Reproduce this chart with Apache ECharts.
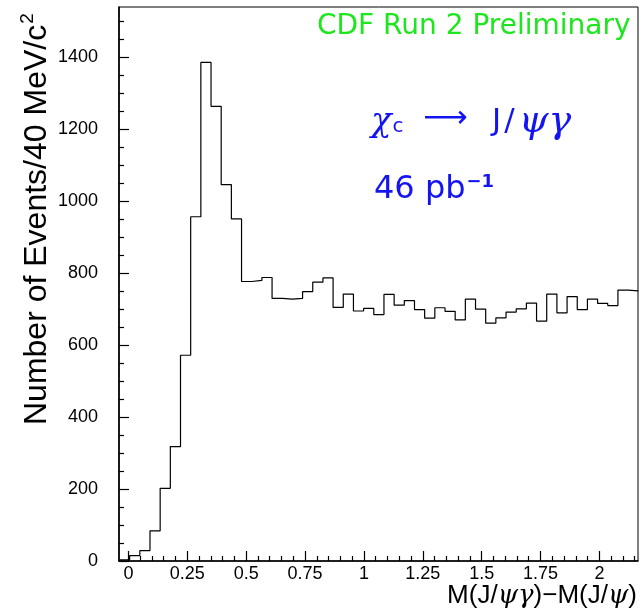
<!DOCTYPE html>
<html>
<head>
<meta charset="utf-8">
<script src="https://cdn.jsdelivr.net/npm/echarts@6/dist/echarts.min.js"></script>
<style>
html,body{margin:0;padding:0;background:#fff;}
#c{width:641px;height:616px;}
</style>
</head>
<body>
<div id="c"></div>
<script>
// Histogram definition (lower edge of first bin and bin width, in GeV/c^2)
const binStart = -0.038;
const binWidth = 0.0432;
// Events per bin
const counts = [
  3, 15, 29, 84, 202, 318, 572, 957, 1386, 1264,
  1046, 951, 777, 780, 788, 730, 728, 730, 749, 775,
  787, 705, 742, 695, 702, 685, 741, 711, 724, 699,
  675, 704, 694, 670, 728, 700, 661, 676, 692, 701,
  717, 667, 742, 690, 735, 699, 728, 716, 710, 753,
  751
];
// Axis ticks
const xMajorTicks = [0, 0.25, 0.5, 0.75, 1, 1.25, 1.5, 1.75, 2];
const xMinorTicks = [0.05, 0.1, 0.15, 0.2, 0.3, 0.35, 0.4, 0.45, 0.55, 0.6, 0.65, 0.7,
  0.8, 0.85, 0.9, 0.95, 1.05, 1.1, 1.15, 1.2, 1.3, 1.35, 1.4, 1.45, 1.55, 1.6, 1.65, 1.7,
  1.8, 1.85, 1.9, 1.95, 2.05, 2.1, 2.15];
const yMajorTicks = [0, 200, 400, 600, 800, 1000, 1200, 1400];
const yMinorTicks = [50, 100, 150, 250, 300, 350, 450, 500, 550, 650, 700, 750, 850, 900, 950,
  1050, 1100, 1150, 1250, 1300, 1350, 1450, 1500];
const xRange = [-0.04, 2.164];
const yRange = [0, 1540];

const stepData = counts.map((c, i) => [binStart + i * binWidth, c]);
stepData.push([binStart + counts.length * binWidth, counts[counts.length - 1]]);

const chart = echarts.init(document.getElementById('c'), null, {renderer: 'canvas'});
const numFont = 'Liberation Sans';
const tickLine = {color: '#000', width: 1.2};
const blue = '#1414f0';

chart.setOption({
  animation: false,
  backgroundColor: '#fff',
  grid: {left: 119, top: 7, width: 519, height: 554, show: true, borderColor: '#000', borderWidth: 1, backgroundColor: 'transparent'},
  xAxis: [
    {type: 'value', min: xRange[0], max: xRange[1], position: 'bottom',
      axisLine: {show: true, onZero: false, lineStyle: {color: '#000', width: 1.6}},
      axisTick: {show: true, inside: true, length: 10, customValues: xMajorTicks, lineStyle: tickLine},
      axisLabel: {show: true, customValues: xMajorTicks, margin: 4, fontSize: 18, fontFamily: numFont, color: '#000',
        formatter: v => String(v)},
      splitLine: {show: false}},
    {type: 'value', min: xRange[0], max: xRange[1], position: 'bottom',
      axisLine: {show: false, onZero: false},
      axisTick: {show: true, inside: true, length: 5, customValues: xMinorTicks, lineStyle: tickLine},
      axisLabel: {show: false},
      splitLine: {show: false}}
  ],
  yAxis: [
    {type: 'value', min: yRange[0], max: yRange[1], position: 'left',
      axisLine: {show: true, onZero: false, lineStyle: {color: '#000', width: 1.6}},
      axisTick: {show: true, inside: true, length: 10, customValues: yMajorTicks, lineStyle: tickLine},
      axisLabel: {show: true, customValues: yMajorTicks, margin: 21, fontSize: 18, fontFamily: numFont, color: '#000',
        formatter: v => String(v)},
      splitLine: {show: false}},
    {type: 'value', min: yRange[0], max: yRange[1], position: 'left',
      axisLine: {show: false, onZero: false},
      axisTick: {show: true, inside: true, length: 5, customValues: yMinorTicks, lineStyle: tickLine},
      axisLabel: {show: false},
      splitLine: {show: false}}
  ],
  series: [{
    type: 'line', step: 'end', xAxisIndex: 0, yAxisIndex: 0,
    data: stepData, showSymbol: false, symbol: 'none',
    lineStyle: {color: '#000', width: 1.2}
  }],
  graphic: [
    {type: 'text', left: 317, top: 13, style: {text: 'CDF Run 2 Preliminary', font: '28px "DejaVu Sans"', fill: '#1ee61e'}},
    {type: 'text', x: 371, y: 122, style: {
      text: '{chi|χ}{sub|c}{sp1| }{arr|⟶}{sp2| }{j|J}{sl|/}{g|ψγ}', verticalAlign: 'middle', fill: blue,
      rich: {
        chi: {font: 'italic 34px "DejaVu Serif"', fill: blue},
        sub: {font: '20px "DejaVu Sans"', fill: blue, padding: [10, 0, 0, 1]},
        sp1: {font: '30px "DejaVu Sans"', fill: blue, padding: [0, 5, 0, 5]},
        arr: {font: '31px "DejaVu Sans"', fill: blue, padding: [0, 0, 6, 0]},
        sp2: {font: '30px "DejaVu Sans"', fill: blue, padding: [0, 8, 0, 7]},
        j: {font: '31px "DejaVu Sans"', fill: blue},
        sl: {font: '31px "DejaVu Sans"', fill: blue, padding: [0, 4, 0, 3]},
        g: {font: 'italic 38px "DejaVu Serif"', fill: blue}
      }}},
    {type: 'text', x: 374, y: 190, style: {
      text: '{n|46 pb}{s|−1}', verticalAlign: 'middle', fill: blue,
      rich: {
        n: {font: '32px "DejaVu Sans"', fill: blue},
        s: {font: 'bold 18px "DejaVu Sans"', fill: blue, padding: [0, 0, 16, 1]}
      }}},
    {type: 'text', x: 637, y: 596, style: {
      text: '{a|M(J/}{g|ψγ}{a|)−M(J/}{g|ψ}{a|)}', align: 'right', verticalAlign: 'middle', fill: '#000',
      rich: {
        a: {font: '26px "Liberation Sans"', fill: '#000'},
        g: {font: 'italic 26px "DejaVu Serif"', fill: '#000'}
      }}},
    {type: 'text', x: 37, y: 425, rotation: Math.PI / 2, style: {
      text: '{a|Number of Events/40 MeV/c}{s|2}', align: 'left', verticalAlign: 'middle', fill: '#000',
      rich: {
        a: {font: '32px "Liberation Sans"', fill: '#000'},
        s: {font: '19px "Liberation Sans"', fill: '#000', padding: [0, 0, 18, 1]}
      }}}
  ]
});
</script>
</body>
</html>
